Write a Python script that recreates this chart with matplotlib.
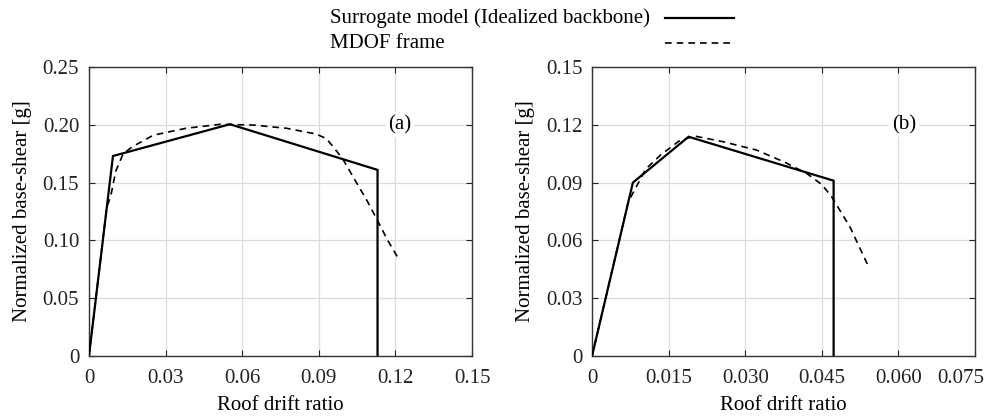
import matplotlib
matplotlib.use("Agg")
import matplotlib.pyplot as plt
from matplotlib.lines import Line2D
from matplotlib.transforms import ScaledTranslation

plt.rcParams['font.family'] = ['Liberation Serif', 'DejaVu Serif']
plt.rcParams['mathtext.fontset'] = 'stix'

# Panel (a)
a_sur_x = [0.0, 0.0094, 0.0552, 0.113, 0.113]
a_sur_y = [0.0, 0.173, 0.2005, 0.161, 0.0]
a_mdof_x = [0.0, 0.0070, 0.0085, 0.0105, 0.0134, 0.0170, 0.0252, 0.038, 0.0513, 0.0643,
            0.0774, 0.0890, 0.0930, 0.0960, 0.0995, 0.105, 0.109, 0.1128, 0.117, 0.121]
a_mdof_y = [0.0, 0.129, 0.138, 0.160, 0.175, 0.181, 0.191, 0.197, 0.2004, 0.1998,
            0.197, 0.192, 0.188, 0.180, 0.170, 0.149, 0.134, 0.118, 0.100, 0.085]

# Panel (b)
b_sur_x = [0.0, 0.0080, 0.0189, 0.0473, 0.0473]
b_sur_y = [0.0, 0.090, 0.1138, 0.091, 0.0]
b_mdof_x = [0.0, 0.0071, 0.0085, 0.0105, 0.0135, 0.0170, 0.0200, 0.0257, 0.0322, 0.0378,
            0.0420, 0.0450, 0.0469, 0.0505, 0.0542]
b_mdof_y = [0.0, 0.080, 0.087, 0.097, 0.1045, 0.1115, 0.1142, 0.1112, 0.1069, 0.1005,
            0.0948, 0.0890, 0.0827, 0.0670, 0.0460]

a_xticks = [0, 0.03, 0.06, 0.09, 0.12, 0.15]
a_xlabels = ['0', '0.03', '0.06', '0.09', '0.12', '0.15']
a_yticks = [0, 0.05, 0.10, 0.15, 0.20, 0.25]
a_ylabels = ['0', '0.05', '0.10', '0.15', '0.20', '0.25']
b_xticks = [0, 0.015, 0.030, 0.045, 0.060, 0.075]
b_xlabels = ['0', '0.015', '0.030', '0.045', '0.060', '0.075']
b_yticks = [0, 0.03, 0.06, 0.09, 0.12, 0.15]
b_ylabels = ['0', '0.03', '0.06', '0.09', '0.12', '0.15']

FS = 15
fig = plt.figure(figsize=(9.95, 4.18), dpi=100)
axa = fig.add_axes([0.0894, 0.1483, 0.385, 0.6914])
axb = fig.add_axes([0.595, 0.1483, 0.385, 0.6914])

panels = [
    (axa, a_sur_x, a_sur_y, a_mdof_x, a_mdof_y, a_xticks, a_xlabels, a_yticks, a_ylabels, '(a)', 0.1218, 0.200),
    (axb, b_sur_x, b_sur_y, b_mdof_x, b_mdof_y, b_xticks, b_xlabels, b_yticks, b_ylabels, '(b)', 0.0611, 0.120),
]
for ax, sx, sy, mx, my, xt, xl, yt, yl, lab, lx, ly in panels:
    ax.plot(sx, sy, color='black', lw=1.6, solid_joinstyle='miter', zorder=3)
    ax.plot(mx, my, color='black', lw=1.2, dashes=(4, 3), zorder=3)
    ax.set_xlim(xt[0], xt[-1])
    ax.set_ylim(yt[0], yt[-1])
    ax.set_xticks(xt)
    ax.set_xticklabels(xl)
    ax.set_yticks(yt)
    ax.set_yticklabels(yl)
    ax.grid(True, color='#dcdcdc', lw=0.9)
    ax.set_axisbelow(True)
    ax.tick_params(direction='in', top=True, right=True, length=4, width=0.8,
                   labelsize=FS, colors='#222222')
    ax.tick_params(axis='x', pad=9)
    ax.tick_params(axis='y', pad=7)
    for s in ax.spines.values():
        s.set_color('#333333')
        s.set_linewidth(1.0)
    ax.set_xlabel('Roof drift ratio', fontsize=FS, labelpad=6)
    ax.set_ylabel('Normalized base-shear [g]', fontsize=FS, labelpad=8)
    ax.text(lx, ly, lab, fontsize=FS, ha='center', va='center', zorder=2,
            bbox=dict(facecolor='white', edgecolor='none', pad=2))

# keep the last x tick label of panel (b) inside the figure
last = axb.get_xticklabels()[-1]
last.set_transform(last.get_transform() + ScaledTranslation(-14 / 100, 0, fig.dpi_scale_trans))

# Legend at the top
fig.text(330 / 995, 1 - 18 / 418, 'Surrogate model (Idealized backbone)', fontsize=FS,
         ha='left', va='center')
fig.text(330 / 995, 1 - 43 / 418, 'MDOF frame', fontsize=FS, ha='left', va='center')
fig.add_artist(Line2D([665 / 995, 734 / 995], [1 - 18 / 418, 1 - 18 / 418],
                      color='black', lw=1.6, transform=fig.transFigure))
fig.add_artist(Line2D([665 / 995, 734 / 995], [1 - 43 / 418, 1 - 43 / 418],
                      color='black', lw=1.2, dashes=(4, 3), transform=fig.transFigure))

fig.savefig('out.png', dpi=100)
